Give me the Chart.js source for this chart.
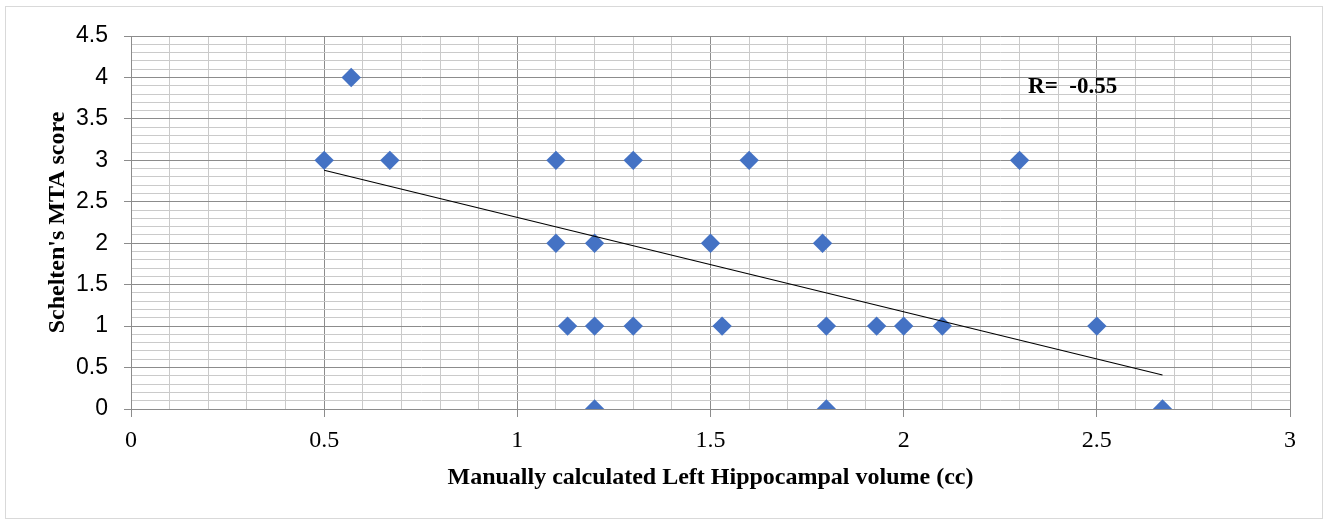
<!DOCTYPE html>
<html>
<head>
<meta charset="utf-8">
<script src="https://cdn.jsdelivr.net/npm/chart.js@4/dist/chart.umd.min.js"></script>
<style>
  html, body { margin: 0; padding: 0; background: #fff; }
  #wrap { width: 1328px; height: 523px; position: relative; }
</style>
</head>
<body>
<div id="wrap"><canvas id="c" width="1328" height="523"></canvas></div>
<script>
// Data
const volumeCc = [0.5, 0.57, 0.67, 1.1, 1.3, 1.6, 2.3, 1.1, 1.2, 1.5, 1.79, 1.13, 1.2, 1.3, 1.53, 1.8, 1.93, 2.0, 2.1, 2.5, 1.2, 1.8, 2.67];
const mtaScore = [3, 4, 3, 3, 3, 3, 3, 2, 2, 2, 2, 1, 1, 1, 1, 1, 1, 1, 1, 1, 0, 0, 0];
const trendX = [0.5, 2.67];
const trendY = [2.88, 0.41];
const xTitle = 'Manually calculated Left Hippocampal volume (cc)';
const yTitle = "Schelten's MTA score";
const rLabel = 'R=  -0.55';
const rPos = [2.322, 3.88];

const points = volumeCc.map((v, i) => ({x: v, y: mtaScore[i]}));
const trend = trendX.map((v, i) => ({x: v, y: trendY[i]}));

const isMajor = v => Math.abs(v * 2 - Math.round(v * 2)) < 1e-6;
const MAJOR = '#8c8c8c', MINOR = '#cacaca';
const SERIF = '"Liberation Serif", "Times New Roman", serif';

const borderPlugin = {
  id: 'outerBorder',
  beforeDraw(chart) {
    const ctx = chart.ctx;
    ctx.save();
    ctx.fillStyle = '#fff';
    ctx.fillRect(0, 0, chart.width, chart.height);
    ctx.strokeStyle = '#d9d9d9';
    ctx.lineWidth = 1;
    ctx.strokeRect(5.5, 6.5, 1317, 512);
    ctx.restore();
  }
};
const rPlugin = {
  id: 'rLabel',
  afterDatasetsDraw(chart) {
    const {ctx, scales: {x, y}} = chart;
    ctx.save();
    ctx.font = 'bold 23px ' + SERIF;
    ctx.fillStyle = '#000';
    ctx.textAlign = 'left';
    ctx.textBaseline = 'middle';
    ctx.fillText(rLabel, x.getPixelForValue(rPos[0]), y.getPixelForValue(rPos[1]));
    ctx.restore();
  }
};

new Chart(document.getElementById('c'), {
  type: 'scatter',
  data: {
    datasets: [
      {
        data: points,
        pointStyle: 'rectRot',
        pointRadius: 9.7,
        pointHoverRadius: 9.7,
        backgroundColor: '#4472C4',
        borderColor: '#4472C4',
        borderWidth: 0,
        order: 2
      },
      {
        type: 'line',
        data: trend,
        borderColor: '#000',
        borderWidth: 1.2,
        pointRadius: 0,
        fill: false,
        order: 1
      }
    ]
  },
  options: {
    responsive: false,
    animation: false,
    events: [],
    layout: { padding: { left: 0, top: 36, right: 38, bottom: 0 } },
    plugins: { legend: { display: false }, tooltip: { enabled: false } },
    scales: {
      x: {
        type: 'linear',
        min: 0, max: 3,
        afterFit(s) { s.height = 114; },
        afterBuildTicks(s) {
          const t = [];
          for (let i = 0; i <= 30; i++) t.push({value: +(i / 10).toFixed(1)});
          s.ticks = t;
        },
        ticks: {
          autoSkip: false,
          maxRotation: 0,
          padding: 9,
          color: '#000',
          font: { family: SERIF, size: 24 },
          callback: v => isMajor(v) ? String(Math.round(v * 10) / 10) : ''
        },
        grid: {
          color: c => isMajor(c.tick.value) ? MAJOR : MINOR,
          tickColor: c => isMajor(c.tick.value) ? MAJOR : 'rgba(0,0,0,0)',
          tickLength: 8,
          lineWidth: 1
        },
        border: { color: MAJOR },
        title: {
          display: true,
          text: xTitle,
          color: '#000',
          font: { family: SERIF, size: 24, weight: 'bold' },
          padding: { top: 0, bottom: 31 }
        }
      },
      y: {
        type: 'linear',
        min: 0, max: 4.5,
        afterFit(s) { s.width = 131; },
        afterBuildTicks(s) {
          const t = [];
          for (let i = 0; i <= 45; i++) t.push({value: +(i / 10).toFixed(1)});
          s.ticks = t;
        },
        ticks: {
          autoSkip: false,
          padding: 16,
          color: '#000',
          font: { family: '"Liberation Sans", Arial, sans-serif', size: 23 },
          callback: v => isMajor(v) ? String(Math.round(v * 10) / 10) : ''
        },
        grid: {
          color: c => isMajor(c.tick.value) ? MAJOR : MINOR,
          tickColor: c => isMajor(c.tick.value) ? MAJOR : 'rgba(0,0,0,0)',
          tickLength: 7,
          lineWidth: 1
        },
        border: { color: MAJOR },
        title: {
          display: true,
          text: yTitle,
          color: '#000',
          font: { family: SERIF, size: 24, weight: 'bold' },
          padding: { top: 43, bottom: 0 }
        }
      }
    }
  },
  plugins: [borderPlugin, rPlugin]
});
</script>
</body>
</html>
